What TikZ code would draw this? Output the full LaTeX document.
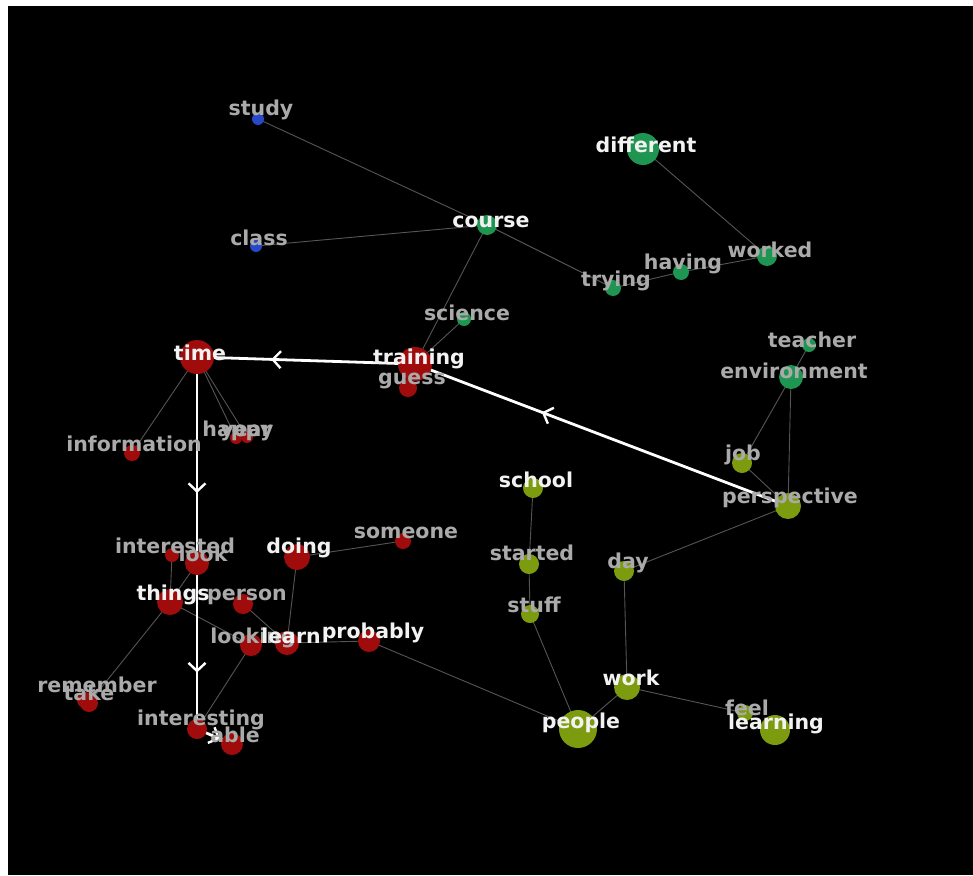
\documentclass[tikz,border=0pt]{standalone}
\usepackage{fontspec}
\setmainfont{DejaVu Sans}
\usetikzlibrary{arrows.meta,decorations.markings}
\pgfdeclarelayer{bg}
\pgfdeclarelayer{edges}
\pgfsetlayers{bg,edges,main}

\definecolor{nodered}{RGB}{160,12,12}
\definecolor{nodegreen}{RGB}{30,150,82}
\definecolor{nodeblue}{RGB}{40,72,200}
\definecolor{nodeolive}{RGB}{124,155,14}
\definecolor{edgegray}{RGB}{85,85,85}
\definecolor{labelgray}{RGB}{170,170,170}
\definecolor{labelwhite}{RGB}{242,242,242}

\tikzset{
  word/.style={circle,inner sep=0pt,minimum size=#1},
  lbl/.style={anchor=base,inner sep=0pt,
    font=\fontsize{20.5}{24}\selectfont\bfseries,text=labelgray},
  hot/.style={text=labelwhite},
  link/.style={draw=edgegray,line width=0.9pt},
  flow/.style={draw=white,line width=2.8pt,postaction={decorate},
    decoration={markings,mark=at position 0.66 with
      {\arrow{Straight Barb[length=8pt,width=17pt,line width=2.4pt]}}}},
}

% circle: name, x, y, radius, colour
\newcommand\wordnode[5]{\node[word=#4*2pt,fill=#5] (#1) at (#2,#3) {};}
% label: style, name, x, baseline, text
\newcommand\wordlabel[5][]{\node[lbl,#1] (#2-l) at (#3,#4) {#5};}

\begin{document}
\begin{tikzpicture}[x=1pt,y=-1pt]
\useasboundingbox (0,0) rectangle (973,875);
\begin{pgfonlayer}{bg}
  \fill[white] (0,0) rectangle (973,875);
  \fill[black] (8,6) rectangle (973,875);
\end{pgfonlayer}

% word circles
\wordnode{study}{258}{119}{6}{nodeblue}
\wordnode{class}{256}{246}{6}{nodeblue}
\wordnode{course}{487}{225}{10}{nodegreen}
\wordnode{different}{643}{149}{16}{nodegreen}
\wordnode{worked}{767}{256}{10}{nodegreen}
\wordnode{having}{681}{272}{8}{nodegreen}
\wordnode{trying}{613}{288}{8}{nodegreen}
\wordnode{science}{464}{319}{7}{nodegreen}
\wordnode{teacher}{809}{345}{7}{nodegreen}
\wordnode{environment}{791}{377}{12}{nodegreen}
\wordnode{time}{197}{357}{17}{nodered}
\wordnode{training}{415}{364}{17}{nodered}
\wordnode{guess}{408}{388}{9}{nodered}
\wordnode{happy}{236}{438}{6}{nodered}
\wordnode{year}{247}{437}{6}{nodered}
\wordnode{information}{132}{453}{8}{nodered}
\wordnode{interested}{172}{555}{7}{nodered}
\wordnode{look}{197}{563}{12}{nodered}
\wordnode{doing}{297}{557}{13}{nodered}
\wordnode{someone}{403}{541}{8}{nodered}
\wordnode{things}{170}{602}{13}{nodered}
\wordnode{person}{243}{604}{10}{nodered}
\wordnode{looking}{251}{645}{11}{nodered}
\wordnode{learn}{287}{643}{12}{nodered}
\wordnode{probably}{369}{641}{11}{nodered}
\wordnode{remember}{85}{700}{8}{nodered}
\wordnode{take}{89}{703}{9}{nodered}
\wordnode{interesting}{197}{729}{10}{nodered}
\wordnode{able}{232}{744}{11}{nodered}
\wordnode{school}{533}{488}{10}{nodeolive}
\wordnode{started}{529}{564}{10}{nodeolive}
\wordnode{stuff}{530}{614}{9}{nodeolive}
\wordnode{day}{624}{571}{10}{nodeolive}
\wordnode{job}{742}{463}{10}{nodeolive}
\wordnode{perspective}{788}{506}{13}{nodeolive}
\wordnode{work}{627}{687}{13}{nodeolive}
\wordnode{people}{578}{729}{19}{nodeolive}
\wordnode{feel}{745}{713}{8}{nodeolive}
\wordnode{learning}{775}{730}{15}{nodeolive}

% connectors, kept beneath the circles
\begin{pgfonlayer}{edges}
  \foreach \a/\b in {study/course,class/course,course/trying,course/training,
      science/training,different/worked,worked/having,having/trying,
      teacher/environment,environment/job,environment/perspective,
      job/perspective,perspective/day,day/work,school/started,started/stuff,
      stuff/people,people/work,work/feel,probably/people,time/information,
      time/happy,time/year,interested/things,look/things,things/take,
      things/looking,person/learn,doing/learn,learn/probably,
      looking/interesting,doing/someone}
    \draw[link] (\a.center) -- (\b.center);
  \foreach \a/\b in {perspective/training,training/time,time/look,
      look/interesting,interesting/able}
    \draw[flow] (\a.center) -- (\b.center);
\end{pgfonlayer}

% word labels
\wordlabel{study}{261}{115}{study}
\wordlabel{class}{259}{245}{class}
\wordlabel[hot]{course}{491}{227}{course}
\wordlabel[hot]{different}{646}{152}{different}
\wordlabel{worked}{770}{257}{worked}
\wordlabel{having}{683}{269}{having}
\wordlabel{trying}{616}{286}{trying}
\wordlabel{science}{467}{320}{science}
\wordlabel{teacher}{812}{347}{teacher}
\wordlabel{environment}{794}{378}{environment}
\wordlabel[hot]{time}{200}{360}{time}
\wordlabel{guess}{412}{384}{guess}
\wordlabel[hot]{training}{419}{364}{training}
\wordlabel{happy}{238}{436}{happy}
\wordlabel{year}{246}{436}{year}
\wordlabel{information}{134}{451}{information}
\wordlabel{interested}{175}{553}{interested}
\wordlabel{look}{203}{561}{look}
\wordlabel[hot]{doing}{299}{553}{doing}
\wordlabel{someone}{406}{538}{someone}
\wordlabel[hot]{things}{173}{600}{things}
\wordlabel{person}{247}{600}{person}
\wordlabel{looking}{253}{643}{looking}
\wordlabel[hot]{learn}{291}{643}{learn}
\wordlabel[hot]{probably}{373}{638}{probably}
\wordlabel{remember}{97}{692}{remember}
\wordlabel{take}{89}{700}{take}
\wordlabel{interesting}{201}{725}{interesting}
\wordlabel{able}{235}{742}{able}
\wordlabel[hot]{school}{536}{487}{school}
\wordlabel{started}{532}{560}{started}
\wordlabel{stuff}{534}{612}{stuff}
\wordlabel{day}{628}{568}{day}
\wordlabel{job}{743}{460}{job}
\wordlabel{perspective}{790}{503}{perspective}
\wordlabel[hot]{work}{631}{685}{work}
\wordlabel[hot]{people}{581}{728}{people}
\wordlabel{feel}{747}{715}{feel}
\wordlabel[hot]{learning}{776}{729}{learning}
\end{tikzpicture}
\end{document}
